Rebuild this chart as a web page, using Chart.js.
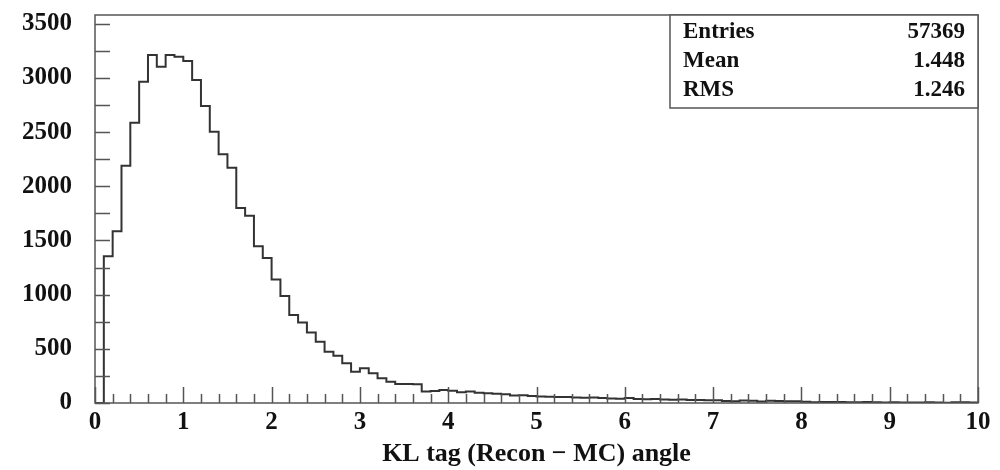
<!DOCTYPE html>
<html>
<head>
<meta charset="utf-8">
<script src="https://cdn.jsdelivr.net/npm/chart.js@4"></script>
<style>
  html, body { margin: 0; padding: 0; background: #fff; }
  #wrap { width: 1000px; height: 470px; }
</style>
</head>
<body>
<div id="wrap"><canvas id="histo" width="1000" height="470"></canvas></div>
<script>
// histogram: 100 bins from 0 to 10
const xMin = 0;
const xMax = 10;
const binCounts = [
  0, 1354, 1585, 2188, 2585, 2964, 3210, 3103, 3210, 3195,
  3155, 2980, 2740, 2502, 2296, 2170, 1800, 1727, 1447, 1339,
  1140, 988, 813, 742, 650, 566, 474, 437, 366, 289,
  320, 274, 228, 197, 175, 175, 172, 105, 110, 120,
  114, 100, 105, 95, 90, 85, 80, 70, 72, 65,
  60, 58, 55, 55, 50, 48, 50, 45, 42, 40,
  45, 38, 35, 36, 32, 30, 33, 28, 27, 26,
  25, 18, 15, 22, 20, 14, 20, 18, 16, 15,
  12, 8, 10, 10, 9, 8, 7, 9, 6, 5,
  6, 5, 5, 4, 6, 4, 3, 8, 6, 5
];
const xTickLabels = [0, 1, 2, 3, 4, 5, 6, 7, 8, 9, 10];
const yTickLabels = [0, 500, 1000, 1500, 2000, 2500, 3000, 3500];
const statNames = ["Entries", "Mean", "RMS"];
const statValues = ["57369", "1.448", "1.246"];

const binWidth = (xMax - xMin) / binCounts.length;
const points = binCounts.map((c, i) => ({ x: xMin + i * binWidth, y: c }));
points.push({ x: xMax, y: binCounts[binCounts.length - 1] });

const serif = "'Liberation Serif', 'DejaVu Serif', serif";

// frame, inward ticks and stats box, ROOT style
const rootFrame = {
  id: "rootFrame",
  afterDraw(chart) {
    const { ctx, chartArea: a, scales } = chart;
    const xs = scales.x, ys = scales.y;
    ctx.save();
    ctx.strokeStyle = "#555";
    ctx.lineWidth = 1.5;

    ctx.beginPath();
    for (let v = 0; v <= 3500; v += 250) {
      const py = Math.round(ys.getPixelForValue(v)) + 0.5;
      ctx.moveTo(a.left, py);
      ctx.lineTo(a.left + 15, py);
    }
    for (let k = 0; k <= 50; k++) {
      const px = Math.round(xs.getPixelForValue(k * 0.2)) + 0.5;
      const len = k % 5 === 0 ? 16 : 9;
      ctx.moveTo(px, a.bottom);
      ctx.lineTo(px, a.bottom - len);
    }
    ctx.stroke();

    ctx.strokeRect(a.left, a.top, a.right - a.left, a.bottom - a.top);

    // stats box
    const bx = 670, by = a.top, bw = a.right - 670, bh = 93;
    ctx.fillStyle = "#fff";
    ctx.fillRect(bx, by, bw, bh);
    ctx.strokeRect(bx, by, bw, bh);
    ctx.fillStyle = "#111";
    ctx.font = "bold 23px " + serif;
    ctx.textBaseline = "alphabetic";
    statNames.forEach((name, i) => {
      const ty = by + 23 + i * 29;
      ctx.textAlign = "left";
      ctx.fillText(name, 683, ty);
      ctx.textAlign = "right";
      ctx.fillText(statValues[i], 965, ty);
    });
    ctx.restore();
  }
};

new Chart(document.getElementById("histo"), {
  type: "line",
  data: {
    datasets: [{
      data: points,
      stepped: "before",
      borderColor: "#333",
      borderWidth: 2,
      pointRadius: 0,
      fill: false
    }]
  },
  options: {
    responsive: false,
    animation: false,
    layout: { padding: { top: 15, right: 22, left: 0, bottom: 0 } },
    plugins: { legend: { display: false }, tooltip: { enabled: false } },
    scales: {
      x: {
        type: "linear",
        min: xMin,
        max: xMax,
        afterBuildTicks: s => { s.ticks = xTickLabels.map(v => ({ value: v })); },
        afterFit: s => { s.height = 67; s.paddingLeft = 0; s.paddingRight = 0; },
        grid: { display: false, drawTicks: false },
        border: { display: false },
        ticks: {
          color: "#111",
          padding: 5,
          maxRotation: 0,
          callback: v => String(v),
          font: { family: serif, weight: "bold", size: 25 }
        },
        title: {
          display: true,
          text: "KL tag (Recon \u2212 MC) angle",
          color: "#111",
          padding: { top: 0, bottom: 0 },
          font: { family: serif, weight: "bold", size: 26 }
        }
      },
      y: {
        min: 0,
        max: 3580,
        afterBuildTicks: s => { s.ticks = yTickLabels.map(v => ({ value: v })); },
        afterFit: s => { s.width = 95; s.paddingTop = 0; s.paddingBottom = 0; },
        grid: { display: false, drawTicks: false },
        border: { display: false },
        ticks: {
          color: "#111",
          padding: 23,
          callback: v => String(v),
          font: { family: serif, weight: "bold", size: 25 }
        }
      }
    }
  },
  plugins: [rootFrame]
});
</script>
</body>
</html>
